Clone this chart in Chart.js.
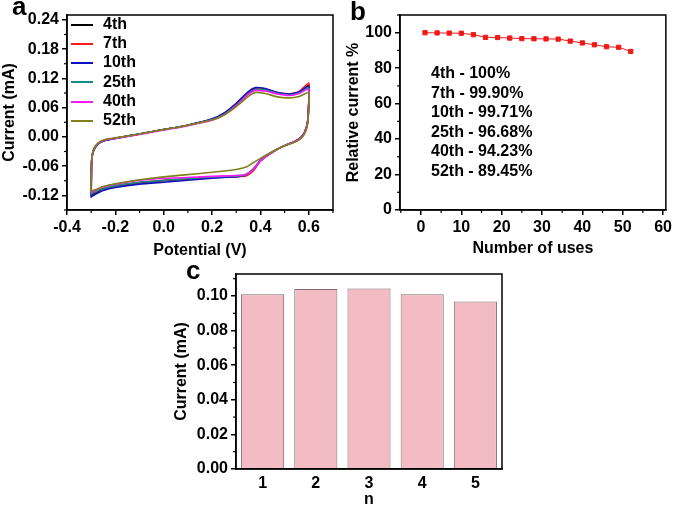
<!DOCTYPE html>
<html>
<head>
<meta charset="utf-8">
<script src="https://cdn.jsdelivr.net/npm/chart.js@4.4.1/dist/chart.umd.min.js"></script>
<style>
  body { margin: 0; width: 675px; height: 509px; position: relative; background: #fff; overflow: hidden;
         font-family: "Liberation Sans", Arial, sans-serif; font-weight: bold; color: #000; }
  canvas { position: absolute; }
  .panel { position: absolute; font-size: 26px; line-height: 26px; z-index: 2; }
  #legend { position: absolute; left: 71px; top: 14px; font-size: 16px; z-index: 2; }
  #legend div { height: 19.2px; line-height: 19.2px; white-space: nowrap; }
  #legend span { display: inline-block; width: 22px; height: 2px; vertical-align: middle; margin-right: 10px; }
  #notes { position: absolute; left: 431px; top: 63px; font-size: 16px; line-height: 19.6px; z-index: 2; }
</style>
</head>
<body>
<canvas id="cv" width="340" height="260" style="left:0;top:0"></canvas>
<canvas id="rel" width="335" height="260" style="left:340px;top:0"></canvas>
<canvas id="bars" width="380" height="257" style="left:140px;top:252px"></canvas>
<div class="panel" style="left:12px;top:-7px">a</div>
<div class="panel" style="left:350px;top:-2px">b</div>
<div class="panel" style="left:186px;top:257px">c</div>
<div id="legend"></div>
<div id="notes"></div>
<script>
// panel a: cyclic voltammograms (forward sweep -0.3 -> 0.6 V, then back)
const potential = [
  -0.300, -0.298, -0.290, -0.270, -0.240, -0.200, -0.100, 0.000, 0.100, 0.200, 0.250, 0.300, 0.350, 0.380, 0.420, 0.470, 0.520, 0.560, 0.600,
  0.599, 0.595, 0.585, 0.570, 0.545, 0.500, 0.450, 0.400, 0.370, 0.340, 0.310, 0.250, 0.150, 0.000, -0.100, -0.200, -0.250, -0.280, -0.298, -0.300
];
const cv4th = [
  -0.122, -0.050, -0.028, -0.014, -0.007, -0.003, 0.006, 0.015, 0.024, 0.036, 0.048, 0.068, 0.091, 0.099, 0.097, 0.090, 0.087, 0.091, 0.105,
  0.062, 0.031, 0.012, 0.000, -0.009, -0.018, -0.031, -0.049, -0.068, -0.078, -0.081, -0.082, -0.085, -0.090, -0.094, -0.101, -0.107, -0.114, -0.119, -0.122
];
const cv7th = [
  -0.120, -0.049, -0.027, -0.013, -0.006, -0.003, 0.006, 0.015, 0.024, 0.035, 0.047, 0.066, 0.090, 0.100, 0.098, 0.091, 0.088, 0.093, 0.110,
  0.065, 0.033, 0.013, 0.000, -0.009, -0.018, -0.031, -0.050, -0.070, -0.080, -0.081, -0.082, -0.084, -0.089, -0.093, -0.100, -0.106, -0.112, -0.117, -0.120
];
const cv10th = [
  -0.125, -0.050, -0.028, -0.014, -0.007, -0.003, 0.006, 0.015, 0.024, 0.037, 0.049, 0.069, 0.093, 0.101, 0.099, 0.091, 0.088, 0.092, 0.104,
  0.060, 0.030, 0.012, 0.000, -0.009, -0.018, -0.031, -0.048, -0.066, -0.077, -0.081, -0.083, -0.087, -0.093, -0.097, -0.104, -0.110, -0.117, -0.122, -0.125
];
const cv25th = [
  -0.119, -0.049, -0.027, -0.013, -0.006, -0.003, 0.006, 0.015, 0.024, 0.035, 0.046, 0.065, 0.088, 0.097, 0.096, 0.089, 0.086, 0.090, 0.100,
  0.058, 0.029, 0.011, -0.001, -0.009, -0.018, -0.031, -0.049, -0.067, -0.077, -0.080, -0.081, -0.084, -0.089, -0.093, -0.100, -0.106, -0.112, -0.116, -0.119
];
const cv40th = [
  -0.115, -0.048, -0.026, -0.013, -0.006, -0.003, 0.005, 0.014, 0.023, 0.034, 0.045, 0.064, 0.087, 0.095, 0.094, 0.088, 0.085, 0.089, 0.098,
  0.057, 0.028, 0.011, -0.001, -0.009, -0.018, -0.031, -0.049, -0.067, -0.077, -0.079, -0.080, -0.082, -0.085, -0.089, -0.097, -0.103, -0.109, -0.113, -0.115
];
const cv52th = [
  -0.113, -0.047, -0.025, -0.012, -0.005, -0.002, 0.006, 0.015, 0.024, 0.035, 0.045, 0.062, 0.083, 0.091, 0.089, 0.082, 0.080, 0.083, 0.091,
  0.055, 0.026, 0.009, -0.002, -0.010, -0.018, -0.030, -0.044, -0.053, -0.062, -0.066, -0.070, -0.075, -0.082, -0.088, -0.096, -0.102, -0.108, -0.111, -0.113
];
const cycleLabels = ['4th', '7th', '10th', '25th', '40th', '52th'];
const cycleColors = ['#000000', '#ff1a1a', '#1010c0', '#178c8c', '#ff19ff', '#80801a'];
const cvXTicks = [-0.4, -0.2, 0.0, 0.2, 0.4, 0.6];
const cvYTicks = [-0.12, -0.06, 0.00, 0.06, 0.12, 0.18, 0.24];

// panel b: relative current vs number of uses
const uses = [1, 4, 7, 10, 13, 16, 19, 22, 25, 28, 31, 34, 37, 40, 43, 46, 49, 52];
const relCurrent = [100, 99.9, 99.8, 99.71, 98.9, 97.4, 97.3, 97.0, 96.68, 96.6, 96.5, 96.4, 95.3, 94.23, 93.2, 92.1, 91.8, 89.45];
const retention = ['4th - 100%', '7th - 99.90%', '10th - 99.71%', '25th - 96.68%', '40th - 94.23%', '52th - 89.45%'];
const usesXTicks = [0, 10, 20, 30, 40, 50, 60];
const relYTicks = [0, 20, 40, 60, 80, 100];

// panel c: peak current for electrodes n = 1..5
const electrodes = ['1', '2', '3', '4', '5'];
const peakCurrent = [0.1010, 0.1040, 0.1043, 0.1010, 0.0968];
const barYTicks = [0.00, 0.02, 0.04, 0.06, 0.08, 0.10];

const FONT = '"Liberation Sans", Arial, sans-serif';
const tickFont = { family: FONT, size: 16, weight: 'bold' };
const titleFont = { family: FONT, size: 16, weight: 'bold' };

// box round the plot area plus minor ticks half way between major ones
const frame = {
  id: 'frame',
  afterDraw(chart) {
    const { ctx, chartArea: a } = chart;
    ctx.save();
    ctx.strokeStyle = '#000';
    ctx.lineWidth = 1.5;
    ctx.strokeRect(a.left, a.top, a.right - a.left, a.bottom - a.top);
    ctx.lineWidth = 1.2;
    ['x', 'y'].forEach(id => {
      const s = chart.scales[id];
      if (!s || s.type === 'category') return;
      const t = s.ticks.map(k => k.value);
      if (t.length < 2) return;
      const half = (t[1] - t[0]) / 2;
      for (let v = t[0] - half; v <= s.max + 1e-9; v += 2 * half) {
        if (v < s.min - 1e-9) continue;
        const p = s.getPixelForValue(v);
        ctx.beginPath();
        if (id === 'x') { ctx.moveTo(p, a.bottom); ctx.lineTo(p, a.bottom + 3); }
        else { ctx.moveTo(a.left - 3, p); ctx.lineTo(a.left, p); }
        ctx.stroke();
      }
    });
    ctx.restore();
  }
};

function linAxis(min, max, ticks, digits, size, title, titlePad, horizontal) {
  return {
    type: 'linear', min, max,
    afterBuildTicks: s => { s.ticks = ticks.map(v => ({ value: v })); },
    afterFit: s => { if (horizontal) s.height = size; else s.width = size; },
    ticks: { font: tickFont, color: '#000', padding: 3, maxRotation: 0,
             callback: v => Number(v).toFixed(digits) },
    grid: { drawOnChartArea: false, tickLength: 5, color: '#000', lineWidth: 1.5 },
    border: { color: '#000', width: 1.5 },
    title: { display: true, text: title, font: titleFont, color: '#000', padding: titlePad }
  };
}

const common = {
  responsive: false, animation: false, devicePixelRatio: 1,
  plugins: { legend: { display: false }, tooltip: { enabled: false } }
};

const cvSeries = [cv4th, cv7th, cv10th, cv25th, cv40th, cv52th];
new Chart(document.getElementById('cv'), {
  type: 'scatter',
  data: {
    datasets: cvSeries.map((ys, k) => ({
      label: cycleLabels[k],
      data: potential.map((x, i) => ({ x, y: ys[i] })),
      showLine: true, pointRadius: 0, borderWidth: 1.6, tension: 0.2,
      borderColor: cycleColors[k], order: cvSeries.length - k
    }))
  },
  options: {
    ...common,
    layout: { padding: { top: 15, right: 7, left: 0, bottom: 0 } },
    scales: {
      x: linAxis(-0.4, 0.7, cvXTicks, 1, 50, 'Potential (V)', { top: 0, bottom: 0 }, true),
      y: linAxis(-0.15, 0.25, cvYTicks, 2, 67, 'Current (mA)', { top: 0, bottom: 0 }, false)
    }
  },
  plugins: [frame]
});

new Chart(document.getElementById('rel'), {
  type: 'line',
  data: {
    datasets: [{
      data: uses.map((x, i) => ({ x, y: relCurrent[i] })),
      borderColor: '#f01818', backgroundColor: '#f01818', borderWidth: 1,
      pointStyle: 'rect', pointRadius: 3, tension: 0
    }]
  },
  options: {
    ...common,
    layout: { padding: { top: 15, right: 7, left: 0, bottom: 0 } },
    scales: {
      x: linAxis(-5.2, 60.7, usesXTicks, 0, 50, 'Number of uses', { top: 0, bottom: 2 }, true),
      y: linAxis(0, 110, relYTicks, 0, 60, 'Relative current %', { top: 4, bottom: 0 }, false)
    }
  },
  plugins: [frame]
});

const barY = linAxis(0, 0.1127, barYTicks, 2, 96, 'Current (mA)', { top: 32, bottom: 0 }, false);
new Chart(document.getElementById('bars'), {
  type: 'bar',
  data: {
    labels: electrodes,
    datasets: [{
      data: peakCurrent,
      backgroundColor: '#f3bcc5', borderColor: '#7d6d70', borderWidth: 1,
      barPercentage: 0.81, categoryPercentage: 1
    }]
  },
  options: {
    ...common,
    layout: { padding: { top: 22, right: 18, left: 0, bottom: 0 } },
    scales: {
      x: {
        type: 'category',
        afterFit: s => { s.height = 40; },
        ticks: { font: tickFont, color: '#000', padding: 5 },
        grid: { display: false, drawTicks: false },
        border: { color: '#000', width: 1.5 },
        title: { display: true, text: 'n', font: titleFont, color: '#000', padding: 0 }
      },
      y: barY
    }
  },
  plugins: [frame]
});

document.getElementById('legend').innerHTML = cycleLabels
  .map((t, k) => `<div><span style="background:${cycleColors[k]}"></span>${t}</div>`).join('');
document.getElementById('notes').innerHTML = retention.map(t => `<div>${t}</div>`).join('');
</script>
</body>
</html>
